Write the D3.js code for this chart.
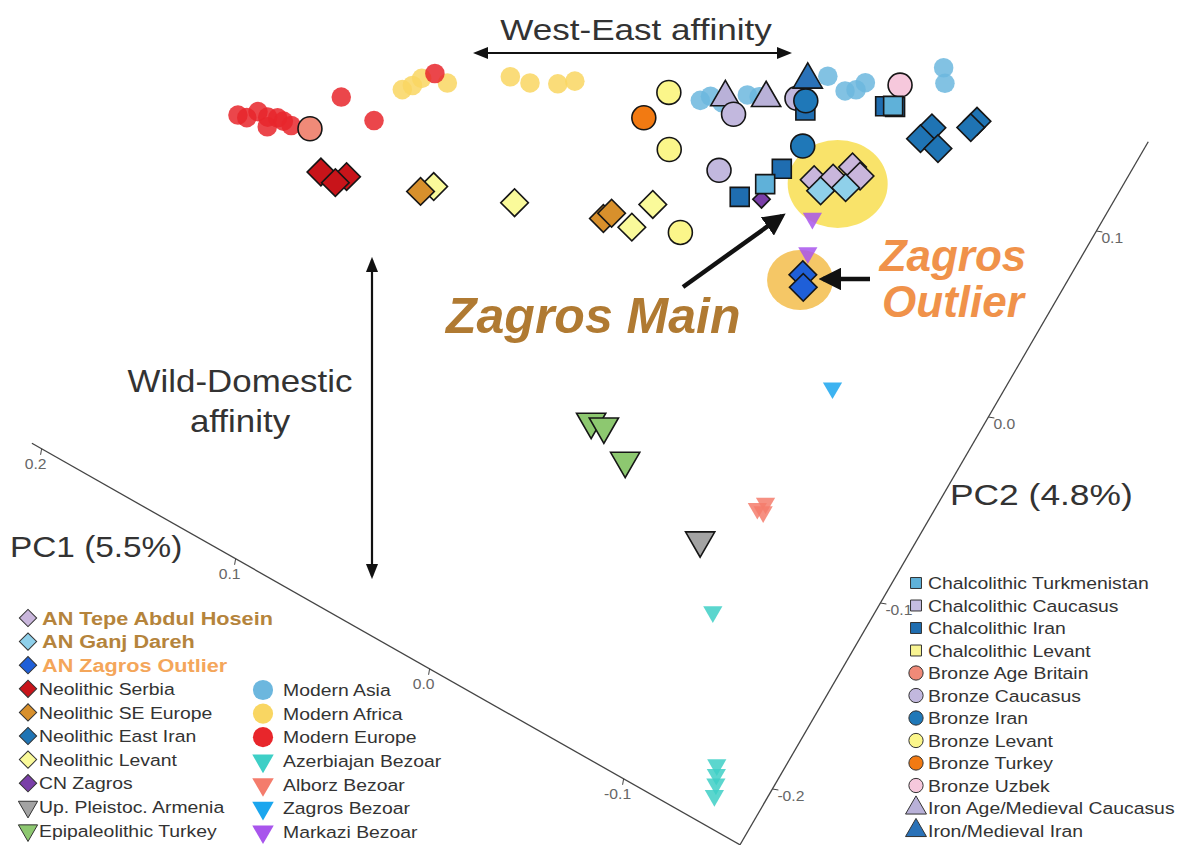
<!DOCTYPE html>
<html>
<head>
<meta charset="utf-8">
<script src="https://cdn.jsdelivr.net/npm/d3@7"></script>
<style>
  body { margin: 0; background: #fff; }
  svg { display: block; font-family: "Liberation Sans", Arial, sans-serif; }
</style>
</head>
<body>
<div id="chart"></div>
<script>
// PCA of goat genomes, PC1 / PC2 read along the two oblique axes

var svgWidth = 1200;
var svgHeight = 845;

// group name, fill colour, marker shape
var groupNames = [
  "AN Tepe Abdul Hosein", "AN Ganj Dareh", "AN Zagros Outlier",
  "Neolithic Serbia", "Neolithic SE Europe", "Neolithic East Iran", "Neolithic Levant",
  "CN Zagros", "Up. Pleistoc. Armenia", "Epipaleolithic Turkey",
  "Modern Asia", "Modern Africa", "Modern Europe",
  "Azerbiajan Bezoar", "Alborz Bezoar", "Zagros Bezoar", "Markazi Bezoar",
  "Chalcolithic Turkmenistan", "Chalcolithic Caucasus", "Chalcolithic Iran", "Chalcolithic Levant",
  "Bronze Age Britain", "Bronze Caucasus", "Bronze Iran", "Bronze Levant", "Bronze Turkey", "Bronze Uzbek",
  "Iron Age/Medieval Caucasus", "Iron/Medieval Iran"
];
var groupColors = [
  "#c9b6dc", "#8fd0ea", "#1f5fd8",
  "#c8141a", "#d8902c", "#1f74b4", "#fafa9a",
  "#7a3fa8", "#a3a3a3", "#8dc870",
  "#6cb7de", "#f9d662", "#e8262b",
  "#3ecfc6", "#f47c6c", "#1ba6ee", "#a855ec",
  "#5fb1d9", "#c5bde2", "#1f6db0", "#f8f492",
  "#f08a78", "#c2b8de", "#1f78b8", "#fbf68a", "#f27a12", "#f6c8dc",
  "#b9b1d8", "#2a72b8"
];
var groupShapes = [
  "diamond", "diamond", "diamond",
  "diamond", "diamond", "diamond", "diamond",
  "diamond", "triDown", "triDown",
  "circle", "circle", "circle",
  "triDown", "triDown", "triDown", "triDown",
  "square", "square", "square", "square",
  "circle", "circle", "circle", "circle", "circle", "circle",
  "triUp", "triUp"
];
var unoutlined = ["Modern Asia", "Modern Africa", "Modern Europe",
  "Azerbiajan Bezoar", "Alborz Bezoar", "Zagros Bezoar", "Markazi Bezoar"];

// samples: [group, PC1, PC2]  (drawing order = list order)
var samples = [
  ["Modern Europe", 0.199, -0.050], ["Modern Europe", 0.195, -0.049], ["Modern Europe", 0.192, -0.044],
  ["Modern Europe", 0.187, -0.044], ["Modern Europe", 0.183, -0.042], ["Modern Europe", 0.185, -0.048],
  ["Modern Europe", 0.180, -0.042], ["Modern Europe", 0.176, -0.042], ["Modern Europe", 0.163, -0.019],
  ["Modern Europe", 0.145, -0.021],
  ["Modern Africa", 0.141, -0.002], ["Modern Africa", 0.138, 0.002], ["Modern Africa", 0.136, 0.007],
  ["Modern Africa", 0.125, 0.011], ["Modern Africa", 0.102, 0.028], ["Modern Africa", 0.093, 0.030],
  ["Modern Africa", 0.082, 0.036], ["Modern Africa", 0.076, 0.041],
  ["Modern Europe", 0.132, 0.012],
  ["Modern Asia", 0.023, 0.062], ["Modern Asia", 0.020, 0.066], ["Modern Asia", 0.014, 0.066],
  ["Modern Asia", 0.006, 0.075], ["Modern Asia", 0.001, 0.077], ["Modern Asia", -0.021, 0.101],
  ["Modern Asia", -0.031, 0.099], ["Modern Asia", -0.035, 0.102], ["Modern Asia", -0.037, 0.107],
  ["Modern Asia", -0.064, 0.131], ["Modern Asia", -0.068, 0.125],
  ["Bronze Age Britain", 0.168, -0.039],
  ["Neolithic Serbia", 0.154, -0.054], ["Neolithic Serbia", 0.143, -0.050], ["Neolithic Serbia", 0.146, -0.055],
  ["Neolithic Levant", 0.107, -0.034],
  ["Neolithic SE Europe", 0.111, -0.039],
  ["Neolithic Levant", 0.072, -0.022],
  ["Neolithic SE Europe", 0.034, -0.008], ["Neolithic SE Europe", 0.032, -0.004],
  ["Neolithic Levant", 0.021, -0.005], ["Neolithic Levant", 0.018, 0.009],
  ["Bronze Levant", 0.037, 0.058], ["Bronze Levant", 0.024, 0.035], ["Bronze Levant", 0.001, 0.004],
  ["Bronze Turkey", 0.041, 0.042],
  ["Iron Age/Medieval Caucasus", 0.014, 0.069], ["Iron Age/Medieval Caucasus", -0.002, 0.078],
  ["Bronze Caucasus", 0.007, 0.064], ["Bronze Caucasus", 0.000, 0.038], ["Bronze Caucasus", -0.014, 0.085],
  ["Iron/Medieval Iran", -0.014, 0.095],
  ["Chalcolithic Iran", -0.020, 0.082],
  ["Bronze Iran", -0.018, 0.086], ["Bronze Iran", -0.027, 0.067],
  ["CN Zagros", -0.023, 0.036],
  ["Chalcolithic Iran", -0.024, 0.053], ["Chalcolithic Iran", -0.014, 0.032],
  ["Chalcolithic Turkmenistan", -0.021, 0.043],
  ["Bronze Uzbek", -0.051, 0.114],
  ["Chalcolithic Iran", -0.050, 0.102], ["Chalcolithic Iran", -0.054, 0.104],
  ["Chalcolithic Turkmenistan", -0.053, 0.104],
  ["Neolithic East Iran", -0.073, 0.104], ["Neolithic East Iran", -0.071, 0.097], ["Neolithic East Iran", -0.080, 0.097],
  ["Neolithic East Iran", -0.089, 0.117], ["Neolithic East Iran", -0.088, 0.113],
  ["Markazi Bezoar", -0.047, 0.040], ["Markazi Bezoar", -0.053, 0.025],
  ["AN Tepe Abdul Hosein", -0.039, 0.056], ["AN Tepe Abdul Hosein", -0.046, 0.061],
  ["AN Tepe Abdul Hosein", -0.051, 0.070], ["AN Tepe Abdul Hosein", -0.056, 0.068],
  ["AN Ganj Dareh", -0.044, 0.053], ["AN Ganj Dareh", -0.053, 0.060],
  ["AN Zagros Outlier", -0.056, 0.015], ["AN Zagros Outlier", -0.059, 0.010],
  ["Zagros Bezoar", -0.093, -0.024],
  ["Epipaleolithic Turkey", -0.007, -0.093], ["Epipaleolithic Turkey", -0.013, -0.092], ["Epipaleolithic Turkey", -0.029, -0.101],
  ["Alborz Bezoar", -0.091, -0.090], ["Alborz Bezoar", -0.093, -0.086], ["Alborz Bezoar", -0.094, -0.090],
  ["Up. Pleistoc. Armenia", -0.076, -0.116],
  ["Azerbiajan Bezoar", -0.097, -0.142], ["Azerbiajan Bezoar", -0.133, -0.203], ["Azerbiajan Bezoar", -0.135, -0.207],
  ["Azerbiajan Bezoar", -0.137, -0.211], ["Azerbiajan Bezoar", -0.139, -0.216]
];

var pc1Ticks = [0.2, 0.1, 0.0, -0.1];
var pc2Ticks = [-0.2, -0.1, 0.0, 0.1];
var pc1Extent = [0.205, -0.16];
var pc2Extent = [-0.23, 0.148];

var legendLeft1 = groupNames.slice(0, 10);
var legendLeft2 = groupNames.slice(10, 17);
var legendRight = groupNames.slice(17);

// oblique projection: each PC contributes an x and a y offset
var origin = [678, 241];
var pc1X = d3.scaleLinear().domain([0, 1]).range([0, -1940]);
var pc1Y = d3.scaleLinear().domain([0, 1]).range([0, -1100]);
var pc2X = d3.scaleLinear().domain([0, 1]).range([0, 1080]);
var pc2Y = d3.scaleLinear().domain([0, 1]).range([0, -1860]);
function project(p1, p2) {
  return [origin[0] + pc1X(p1) + pc2X(p2), origin[1] + pc1Y(p1) + pc2Y(p2)];
}

var colorOf = d3.scaleOrdinal().domain(groupNames).range(groupColors);
var shapeOf = d3.scaleOrdinal().domain(groupNames).range(groupShapes);

function symbolPath(shape, size) {
  var type = shape === "circle" ? d3.symbolCircle
    : (shape === "square" || shape === "diamond") ? d3.symbolSquare
    : d3.symbolTriangle;
  return d3.symbol().type(type).size(size)();
}
function symbolRotate(shape) {
  if (shape === "diamond") return " rotate(45)";
  if (shape === "triDown") return " rotate(180)";
  return "";
}
function plotSize(g) {
  var s = shapeOf(g);
  if (g.indexOf("Modern") === 0) return 300;
  if (g.indexOf("Bezoar") > 0) return 160;
  if (g === "CN Zagros") return 150;
  if (s === "circle") return 450;
  if (s === "square") return 360;
  if (s === "diamond") return 380;
  return 370;
}

var svg = d3.select("#chart").append("svg")
  .attr("width", svgWidth)
  .attr("height", svgHeight);

// text stretched a little sideways, as in the original figure
function label(x, y, size, sx, str) {
  return svg.append("text")
    .attr("transform", "translate(" + x + "," + y + ") scale(" + sx + ",1)")
    .attr("font-size", size)
    .text(str);
}

// axes
var corner = project(pc1Extent[1], pc2Extent[0]);
var pc1Start = project(pc1Extent[0], pc2Extent[0]);
var pc2End = project(pc1Extent[1], pc2Extent[1]);

svg.append("line")
  .attr("x1", pc1Start[0]).attr("y1", pc1Start[1])
  .attr("x2", corner[0]).attr("y2", corner[1])
  .attr("stroke", "#444").attr("stroke-width", 1.3);
svg.append("line")
  .attr("x1", corner[0]).attr("y1", corner[1])
  .attr("x2", pc2End[0]).attr("y2", pc2End[1])
  .attr("stroke", "#444").attr("stroke-width", 1.3);

pc1Ticks.forEach(function(t) {
  var p = project(t, pc2Extent[0]);
  svg.append("line")
    .attr("x1", p[0]).attr("y1", p[1]).attr("x2", p[0] - 1).attr("y2", p[1] + 6)
    .attr("stroke", "#444");
  label(p[0] - 6, p[1] + 20, 14, 1.12, t.toFixed(1))
    .attr("text-anchor", "middle").attr("fill", "#666");
});
pc2Ticks.forEach(function(t) {
  var p = project(pc1Extent[1], t);
  svg.append("line")
    .attr("x1", p[0]).attr("y1", p[1]).attr("x2", p[0] + 6).attr("y2", p[1] + 1)
    .attr("stroke", "#444");
  label(p[0] + 5, p[1] + 12, 14, 1.12, t.toFixed(1)).attr("fill", "#666");
});

label(10, 557, 29, 1.15, "PC1 (5.5%)").attr("fill", "#333");
label(950, 505, 29, 1.22, "PC2 (4.8%)").attr("fill", "#333");

// highlight ellipses around the Zagros clusters
function groupCenter(names) {
  var pts = samples.filter(function(d) { return names.indexOf(d[0]) >= 0; })
    .map(function(d) { return project(d[1], d[2]); });
  return [d3.mean(pts, function(p) { return p[0]; }), d3.mean(pts, function(p) { return p[1]; })];
}
var mainC = groupCenter(["AN Tepe Abdul Hosein", "AN Ganj Dareh"]);
var outC = groupCenter(["AN Zagros Outlier"]);
svg.append("ellipse")
  .attr("cx", mainC[0]).attr("cy", mainC[1] + 4).attr("rx", 50).attr("ry", 44)
  .attr("fill", "#f8e05a").attr("opacity", 0.9);
svg.append("ellipse")
  .attr("cx", outC[0] - 3).attr("cy", outC[1] - 1).attr("rx", 33).attr("ry", 30)
  .attr("fill", "#f4c45e").attr("opacity", 0.95);

// points
svg.append("g").selectAll("path")
  .data(samples)
  .enter()
  .append("path")
  .attr("d", function(d) { return symbolPath(shapeOf(d[0]), plotSize(d[0])); })
  .attr("transform", function(d) {
    var p = project(d[1], d[2]);
    return "translate(" + p[0] + "," + p[1] + ")" + symbolRotate(shapeOf(d[0]));
  })
  .attr("fill", function(d) { return colorOf(d[0]); })
  .attr("fill-opacity", function(d) { return unoutlined.indexOf(d[0]) >= 0 ? 0.85 : 1; })
  .attr("stroke", function(d) { return unoutlined.indexOf(d[0]) >= 0 ? "none" : "#161616"; })
  .attr("stroke-width", 1.6);

// annotation arrows and text
var defs = svg.append("defs");
defs.append("marker").attr("id", "head")
  .attr("viewBox", "0 0 10 10").attr("refX", 8).attr("refY", 5)
  .attr("markerWidth", 5).attr("markerHeight", 5).attr("orient", "auto-start-reverse")
  .append("path").attr("d", "M0,0 L10,5 L0,10 z").attr("fill", "#111");
defs.append("marker").attr("id", "thin")
  .attr("viewBox", "0 0 10 10").attr("refX", 8).attr("refY", 5)
  .attr("markerWidth", 7).attr("markerHeight", 7).attr("orient", "auto-start-reverse")
  .append("path").attr("d", "M0,1 L10,5 L0,9 z").attr("fill", "#111");

function arrow(x1, y1, x2, y2, w, both, m) {
  var l = svg.append("line")
    .attr("x1", x1).attr("y1", y1).attr("x2", x2).attr("y2", y2)
    .attr("stroke", "#111").attr("stroke-width", w)
    .attr("marker-end", "url(#" + m + ")");
  if (both) l.attr("marker-start", "url(#" + m + ")");
}
arrow(476, 53, 789, 53, 2.2, true, "thin");
arrow(372, 260, 372, 576, 2.2, true, "thin");
arrow(683, 287, 782, 216, 4.5, false, "head");
arrow(870, 279, 823, 279, 4.5, false, "head");

label(636, 40, 30, 1.17, "West-East affinity")
  .attr("text-anchor", "middle").attr("fill", "#333");
label(240, 392, 32, 1.09, "Wild-Domestic")
  .attr("text-anchor", "middle").attr("fill", "#333");
label(240, 432, 32, 1.09, "affinity")
  .attr("text-anchor", "middle").attr("fill", "#333");

svg.append("text").attr("x", 446).attr("y", 333)
  .attr("font-size", 50).attr("font-weight", "bold").attr("font-style", "italic")
  .attr("fill", "#b07a32").text("Zagros Main");
svg.append("text").attr("x", 953).attr("y", 271)
  .attr("text-anchor", "middle")
  .attr("font-size", 44).attr("font-weight", "bold").attr("font-style", "italic")
  .attr("fill", "#f0924a").text("Zagros");
svg.append("text").attr("x", 953).attr("y", 317)
  .attr("text-anchor", "middle")
  .attr("font-size", 44).attr("font-weight", "bold").attr("font-style", "italic")
  .attr("fill", "#f0924a").text("Outlier");

// legends
function legend(names, x0, y0, step, textDx, sizeFn) {
  var g = svg.append("g");
  var rows = g.selectAll("g").data(names).enter().append("g")
    .attr("transform", function(d, i) { return "translate(" + x0 + "," + (y0 + i * step) + ")"; });
  rows.append("path")
    .attr("d", function(d) { return symbolPath(shapeOf(d), sizeFn(d)); })
    .attr("transform", function(d) { return "translate(0,0)" + symbolRotate(shapeOf(d)); })
    .attr("fill", function(d) { return colorOf(d); })
    .attr("stroke", function(d) { return unoutlined.indexOf(d) >= 0 ? "none" : "#333"; })
    .attr("stroke-width", 1);
  rows.append("text")
    .attr("transform", function(d) {
      var dx = d.indexOf("AN ") === 0 ? textDx + 3 : textDx;
      return "translate(" + dx + ",0) scale(1.14,1)";
    })
    .attr("dy", "0.36em")
    .attr("font-size", function(d) { return d.indexOf("AN ") === 0 ? 19 : 17; })
    .attr("font-weight", function(d) { return d.indexOf("AN ") === 0 ? "bold" : "normal"; })
    .attr("fill", function(d) {
      if (d === "AN Zagros Outlier") return "#f4a65a";
      if (d.indexOf("AN ") === 0) return "#b5843c";
      return "#333";
    })
    .text(function(d) { return d; });
}
legend(legendLeft1, 28, 618, 23.6, 11, function(d) { return shapeOf(d) === "diamond" ? 150 : 160; });
legend(legendLeft2, 263, 690, 23.6, 20, function(d) { return shapeOf(d) === "circle" ? 320 : 200; });
legend(legendRight, 916, 583, 22.5, 12, function(d) {
  var s = shapeOf(d);
  return s === "square" ? 120 : s === "circle" ? 160 : 190;
});
</script>
</body>
</html>
